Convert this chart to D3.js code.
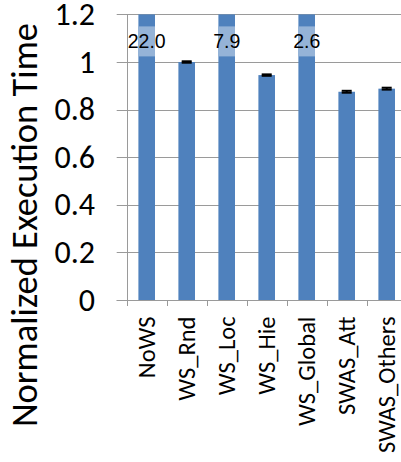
<!DOCTYPE html>
<html>
<head>
<meta charset="utf-8">
<script src="https://cdn.jsdelivr.net/npm/d3@7"></script>
<style>
  html, body { margin: 0; padding: 0; background: #fff; }
  svg { display: block; }
</style>
</head>
<body>
<svg id="chart" width="401" height="462"></svg>
<script>
// Normalized execution time per work-stealing scheme
const categories = ["NoWS", "WS_Rnd", "WS_Loc", "WS_Hie", "WS_Global", "SWAS_Att", "SWAS_Others"];
const values = [22.0, 1.0, 7.9, 0.945, 2.6, 0.875, 0.888];
const errors = [0, 0.003, 0, 0.003, 0, 0.004, 0.004];
const yTicks = [0, 0.2, 0.4, 0.6, 0.8, 1, 1.2];
const yMax = 1.2;

const svg = d3.select("#chart");
const W = 401, H = 462;
const margin = { left: 126.7, top: 14.4 };
const plotBottom = 300;

const x = d3.scaleBand()
  .domain(categories)
  .range([margin.left, margin.left + 40 * categories.length])
  .paddingInner(0.585)
  .paddingOuter(0.2925);

const y = d3.scaleLinear().domain([0, yMax]).range([plotBottom, margin.top]);

const gridColor = "#9a9a9a";
const fontUI = "Carlito, Lato, 'Open Sans', sans-serif";

// Horizontal gridlines, extending a little past the axis as tick marks
svg.append("g")
  .selectAll("line")
  .data(yTicks)
  .join("line")
  .attr("x1", margin.left - 10)
  .attr("x2", W)
  .attr("y1", d => Math.round(y(d)) + 0.5)
  .attr("y2", d => Math.round(y(d)) + 0.5)
  .attr("stroke", gridColor)
  .attr("stroke-width", 1);

// Y axis line
svg.append("line")
  .attr("x1", Math.round(margin.left) + 0.5)
  .attr("x2", Math.round(margin.left) + 0.5)
  .attr("y1", y(yMax))
  .attr("y2", plotBottom)
  .attr("stroke", gridColor);

// Y tick labels
svg.append("g")
  .selectAll("text")
  .data(yTicks)
  .join("text")
  .attr("x", 95)
  .attr("y", d => y(d))
  .attr("dy", "0.33em")
  .attr("text-anchor", "end")
  .attr("font-family", fontUI)
  .attr("font-size", 32)
  .attr("fill", "#000")
  .text(d => d3.format("")(d));

// Baseline of the category axis
svg.append("line")
  .attr("x1", margin.left - 10)
  .attr("x2", W)
  .attr("y1", plotBottom + 0.5)
  .attr("y2", plotBottom + 0.5)
  .attr("stroke", gridColor);

// Category tick marks between bands
svg.append("g")
  .selectAll("line")
  .data(categories)
  .join("line")
  .attr("x1", d => Math.round(x(d) - x.step() * x.paddingInner() / 2) + 0.5)
  .attr("x2", d => Math.round(x(d) - x.step() * x.paddingInner() / 2) + 0.5)
  .attr("y1", plotBottom)
  .attr("y2", plotBottom + 6)
  .attr("stroke", gridColor);

// Bars (clipped at the top of the value axis)
svg.append("g")
  .selectAll("rect")
  .data(categories)
  .join("rect")
  .attr("x", d => x(d))
  .attr("width", x.bandwidth())
  .attr("y", (d, i) => y(Math.min(values[i], yMax)))
  .attr("height", (d, i) => plotBottom - y(Math.min(values[i], yMax)))
  .attr("fill", "#4f81bd");

// Error bars
const eb = svg.append("g");
categories.forEach((c, i) => {
  if (values[i] > yMax) return;
  const cx = x(c) + x.bandwidth() / 2;
  const top = y(values[i] + errors[i]);
  const bot = y(values[i] - errors[i]);
  eb.append("line").attr("x1", cx).attr("x2", cx).attr("y1", top).attr("y2", bot)
    .attr("stroke", "#000").attr("stroke-width", 2);
  [top, bot].forEach(yy => {
    eb.append("line").attr("x1", cx - 5).attr("x2", cx + 5).attr("y1", yy).attr("y2", yy)
      .attr("stroke", "#000").attr("stroke-width", 2);
  });
});

// Value labels for bars that exceed the axis range
const over = categories.map((c, i) => ({ c, v: values[i] })).filter(d => d.v > yMax);
const lbl = svg.append("g");
over.forEach(d => {
  const cx = x(d.c) + x.bandwidth() / 2;
  const ly = y(yMax) + 27;
  lbl.append("rect")
    .attr("x", x(d.c))
    .attr("width", x.bandwidth())
    .attr("y", ly - 15)
    .attr("height", 30)
    .attr("fill", "#95b3d7");
  lbl.append("text")
    .attr("x", cx)
    .attr("y", ly)
    .attr("dy", "0.35em")
    .attr("text-anchor", "middle")
    .attr("font-family", "'Liberation Sans', Arial, sans-serif")
    .attr("font-size", 19.5)
    .attr("fill", "#000")
    .text(d3.format(".1f")(d.v));
});

// Category labels, rotated
svg.append("g")
  .selectAll("text")
  .data(categories)
  .join("text")
  .attr("transform", d => `translate(${x(d) + x.bandwidth() / 2 + 8},${plotBottom + 16.5}) rotate(-90)`)
  .attr("text-anchor", "end")
  .attr("font-family", fontUI)
  .attr("font-size", 24.5)
  .attr("fill", "#000")
  .text(d => d);

// Y axis title
svg.append("text")
  .attr("transform", `translate(37,225) rotate(-90)`)
  .attr("text-anchor", "middle")
  .attr("font-family", fontUI)
  .attr("font-size", 36.5)
  .attr("fill", "#000")
  .text("Normalized Execution Time");
</script>
</body>
</html>
